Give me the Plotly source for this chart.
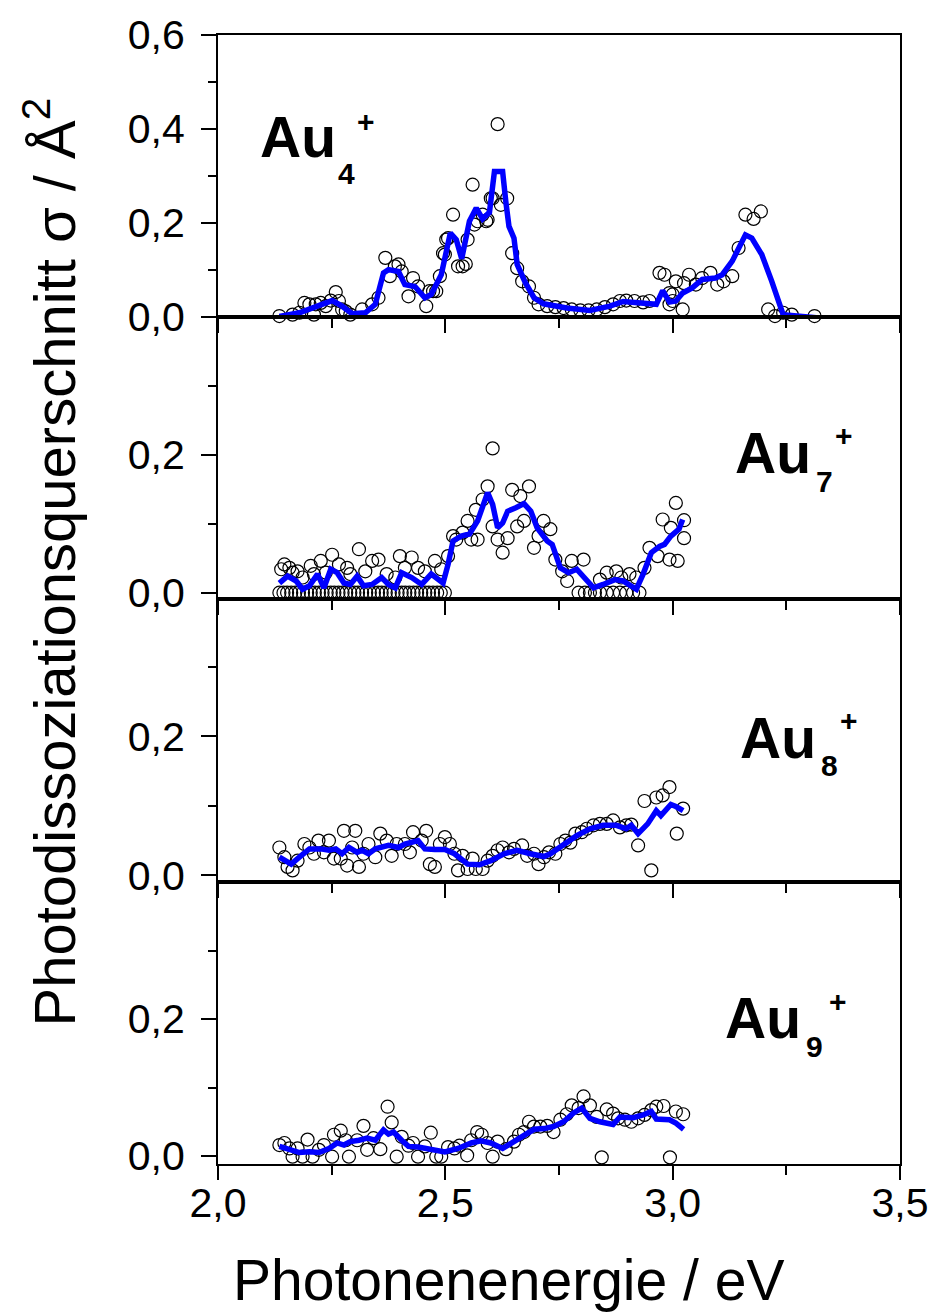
import plotly.graph_objects as go
from plotly.subplots import make_subplots

# ---------------- data ----------------
# Au4+ : measured points (circles) and smoothed curve (line)
AU4_X = [2.135, 2.146, 2.157, 2.164, 2.179, 2.190, 2.201, 2.211, 2.215, 2.226,
         2.237, 2.248, 2.259, 2.266, 2.273, 2.281, 2.291, 2.302, 2.317, 2.339,
         2.353, 2.368, 2.378, 2.389, 2.397, 2.404, 2.419, 2.429, 2.440, 2.458,
         2.465, 2.473, 2.480, 2.488, 2.495, 2.499, 2.502, 2.506, 2.517, 2.528,
         2.538, 2.549, 2.560, 2.564, 2.571, 2.582, 2.593, 2.600, 2.604, 2.615,
         2.622, 2.636, 2.647, 2.658, 2.669, 2.684, 2.695, 2.705, 2.724, 2.742,
         2.760, 2.778, 2.797, 2.815, 2.833, 2.851, 2.869, 2.884, 2.898, 2.916,
         2.935, 2.949, 2.971, 2.982, 2.993, 3.000, 3.007, 3.022, 3.025, 3.036,
         3.051, 3.065, 3.083, 3.098, 3.112, 3.131, 3.145, 3.160, 3.178, 3.194,
         3.210, 3.225, 3.243, 3.262, 3.280, 3.298, 3.312, 3.330,
         2.993, 3.000, 2.590, 2.545]
AU4_Y = [0.001, -0.004, -0.009, 0.004, 0.008, 0.029, 0.026, 0.004, 0.026, 0.029,
         0.022, 0.034, 0.052, 0.033, 0.015, 0.011, 0.004, -0.010, 0.015, 0.026,
         0.040, 0.125, 0.086, 0.107, 0.111, 0.096, 0.043, 0.082, 0.064, 0.022,
         0.054, 0.054, 0.054, 0.086, 0.135, 0.132, 0.164, 0.167, 0.217, 0.107,
         0.107, 0.164, 0.281, 0.196, 0.203, 0.217, 0.206, 0.252, 0.252, 0.410,
         0.238, 0.252, 0.135, 0.103, 0.075, 0.064, 0.040, 0.026, 0.022, 0.020,
         0.018, 0.015, 0.013, 0.013, 0.015, 0.020, 0.026, 0.033, 0.034, 0.033,
         0.030, 0.033, 0.093, 0.089, 0.050, 0.033, 0.075, 0.015, 0.071, 0.089,
         0.068, 0.082, 0.093, 0.068, 0.075, 0.086, 0.146, 0.217, 0.208, 0.224,
         0.015, 0.001, 0.008, 0.004, -0.006, -0.003, 0.001, -0.010,
         0.026, 0.047, 0.203, 0.112]
AU4_LX = [2.135, 2.179, 2.251, 2.273, 2.295, 2.324, 2.346, 2.364, 2.375, 2.397,
          2.411, 2.433, 2.455, 2.469, 2.491, 2.511, 2.524, 2.536, 2.553, 2.568,
          2.582, 2.597, 2.608, 2.626, 2.633, 2.640, 2.651, 2.658, 2.676, 2.695,
          2.716, 2.767, 2.818, 2.862, 2.891, 2.935, 2.964, 2.978, 2.993, 3.007,
          3.022, 3.043, 3.065, 3.094, 3.109, 3.131, 3.160, 3.174, 3.196, 3.218,
          3.243, 3.334]
AU4_LY = [0.000, 0.008, 0.034, 0.022, 0.006, 0.008, 0.026, 0.093, 0.100, 0.096,
          0.068, 0.064, 0.040, 0.047, 0.089, 0.178, 0.164, 0.123, 0.203, 0.231,
          0.208, 0.222, 0.309, 0.309, 0.245, 0.192, 0.167, 0.111, 0.072, 0.040,
          0.027, 0.018, 0.013, 0.022, 0.032, 0.029, 0.026, 0.055, 0.031, 0.033,
          0.050, 0.061, 0.079, 0.082, 0.089, 0.118, 0.174, 0.167, 0.132, 0.075,
          0.004, -0.004]

# Au7+
AU7_X = [2.139, 2.146, 2.157, 2.164, 2.175, 2.186, 2.204, 2.211, 2.226, 2.237,
         2.251, 2.266, 2.284, 2.291, 2.310, 2.324, 2.339, 2.353, 2.371, 2.390,
         2.400, 2.411, 2.426, 2.440, 2.455, 2.477, 2.491, 2.506, 2.517, 2.524,
         2.538, 2.549, 2.557, 2.571, 2.567, 2.582, 2.593, 2.604, 2.604, 2.615,
         2.626, 2.637, 2.647, 2.658, 2.665, 2.673, 2.684, 2.695, 2.705, 2.716,
         2.731, 2.742, 2.757, 2.768, 2.778, 2.804, 2.840, 2.855, 2.876, 2.887,
         2.905, 2.920, 2.938, 2.949, 2.967, 2.978, 2.993, 2.996, 3.007, 3.011,
         3.025, 3.025]
AU7_Y = [0.034, 0.041, 0.036, 0.029, 0.031, 0.022, 0.039, 0.027, 0.046, 0.029,
         0.055, 0.041, 0.036, 0.027, 0.063, 0.031, 0.046, 0.048, 0.027, 0.022,
         0.053, 0.036, 0.051, 0.036, 0.031, 0.046, 0.034, 0.053, 0.082, 0.077,
         0.087, 0.104, 0.077, 0.077, 0.120, 0.135, 0.154, 0.209, 0.096, 0.077,
         0.058, 0.079, 0.149, 0.096, 0.140, 0.104, 0.154, 0.065, 0.082, 0.104,
         0.092, 0.048, 0.031, 0.017, 0.046, 0.048, 0.019, 0.029, 0.031, 0.022,
         0.027, 0.022, 0.036, 0.065, 0.053, 0.106, 0.048, 0.094, 0.130, 0.046,
         0.079, 0.105]
AU7_ZX = [2.135, 2.144, 2.152, 2.161, 2.170, 2.178, 2.187, 2.196, 2.204, 2.213,
          2.222, 2.230, 2.239, 2.248, 2.256, 2.265, 2.274, 2.282, 2.291, 2.300,
          2.308, 2.317, 2.326, 2.334, 2.343, 2.352, 2.360, 2.369, 2.378, 2.386,
          2.395, 2.404, 2.412, 2.421, 2.430, 2.438, 2.447, 2.456, 2.464, 2.473,
          2.482, 2.490, 2.499, 2.793, 2.807, 2.818, 2.829, 2.840, 2.855, 2.869,
          2.884, 2.898, 2.913, 2.927]
AU7_ZY = [0.0, 0.0, 0.0, 0.0, 0.0, 0.0, 0.0, 0.0, 0.0, 0.0,
          0.0, 0.0, 0.0, 0.0, 0.0, 0.0, 0.0, 0.0, 0.0, 0.0,
          0.0, 0.0, 0.0, 0.0, 0.0, 0.0, 0.0, 0.0, 0.0, 0.0,
          0.0, 0.0, 0.0, 0.0, 0.0, 0.0, 0.0, 0.0, 0.0, 0.0,
          0.0, 0.0, 0.0, 0.0, 0.0, 0.0, 0.0, 0.0, 0.0, 0.0,
          0.0, 0.0, 0.0, 0.0]
AU7_LX = [2.135, 2.153, 2.172, 2.186, 2.201, 2.219, 2.233, 2.248, 2.262, 2.277,
          2.291, 2.306, 2.320, 2.339, 2.360, 2.375, 2.390, 2.404, 2.426, 2.448,
          2.469, 2.484, 2.495, 2.506, 2.517, 2.535, 2.553, 2.571, 2.593, 2.604,
          2.615, 2.626, 2.637, 2.655, 2.673, 2.688, 2.702, 2.724, 2.735, 2.753,
          2.771, 2.789, 2.807, 2.826, 2.847, 2.873, 2.891, 2.920, 2.935, 2.953,
          2.971, 2.982, 2.996, 3.014, 3.022]
AU7_LY = [0.014, 0.024, 0.017, 0.005, 0.010, 0.027, 0.007, 0.034, 0.029, 0.014,
          0.012, 0.024, 0.010, 0.012, 0.022, 0.012, 0.007, 0.029, 0.022, 0.012,
          0.027, 0.019, 0.014, 0.041, 0.075, 0.082, 0.085, 0.104, 0.145, 0.128,
          0.094, 0.101, 0.118, 0.123, 0.129, 0.118, 0.094, 0.075, 0.070, 0.036,
          0.029, 0.034, 0.022, 0.007, 0.012, 0.019, 0.017, 0.005, 0.027, 0.058,
          0.067, 0.070, 0.082, 0.092, 0.106]

# Au8+
AU8_X = [2.135, 2.146, 2.153, 2.164, 2.175, 2.190, 2.201, 2.211, 2.221, 2.233,
         2.244, 2.255, 2.270, 2.277, 2.284, 2.295, 2.302, 2.310, 2.320, 2.331,
         2.346, 2.357, 2.371, 2.382, 2.393, 2.411, 2.422, 2.429, 2.448, 2.458,
         2.466, 2.477, 2.488, 2.499, 2.510, 2.520, 2.528, 2.538, 2.549, 2.560,
         2.567, 2.582, 2.593, 2.604, 2.615, 2.626, 2.640, 2.651, 2.669, 2.680,
         2.695, 2.705, 2.717, 2.728, 2.742, 2.753, 2.764, 2.775, 2.786, 2.800,
         2.811, 2.826, 2.840, 2.855, 2.869, 2.884, 2.898, 2.909, 2.924, 2.938,
         2.953, 2.964, 2.978, 2.993, 3.009, 3.023]
AU8_Y = [0.040, 0.026, 0.012, 0.007, 0.021, 0.045, 0.040, 0.031, 0.050, 0.033,
         0.050, 0.024, 0.024, 0.064, 0.014, 0.040, 0.064, 0.012, 0.031, 0.045,
         0.026, 0.060, 0.050, 0.028, 0.045, 0.045, 0.033, 0.062, 0.050, 0.064,
         0.016, 0.012, 0.045, 0.055, 0.045, 0.031, 0.007, 0.028, 0.009, 0.024,
         0.009, 0.009, 0.021, 0.028, 0.036, 0.040, 0.033, 0.038, 0.043, 0.028,
         0.031, 0.016, 0.026, 0.033, 0.031, 0.045, 0.050, 0.047, 0.060, 0.062,
         0.067, 0.072, 0.074, 0.074, 0.079, 0.069, 0.072, 0.073, 0.043, 0.107,
         0.007, 0.112, 0.115, 0.127, 0.060, 0.096]
AU8_LX = [2.135, 2.161, 2.179, 2.201, 2.226, 2.244, 2.259, 2.273, 2.288, 2.306,
          2.317, 2.331, 2.346, 2.375, 2.397, 2.411, 2.440, 2.455, 2.477, 2.499,
          2.520, 2.549, 2.575, 2.600, 2.629, 2.658, 2.687, 2.717, 2.731, 2.760,
          2.789, 2.818, 2.847, 2.876, 2.898, 2.909, 2.924, 2.945, 2.964, 2.974,
          2.996, 3.007, 3.023]
AU8_LY = [0.026, 0.016, 0.026, 0.038, 0.038, 0.036, 0.038, 0.031, 0.040, 0.033,
          0.036, 0.031, 0.038, 0.043, 0.040, 0.045, 0.050, 0.038, 0.037, 0.037,
          0.031, 0.016, 0.015, 0.021, 0.031, 0.036, 0.031, 0.027, 0.031, 0.045,
          0.057, 0.067, 0.072, 0.072, 0.067, 0.072, 0.060, 0.074, 0.093, 0.086,
          0.102, 0.099, 0.093]

# Au9+
AU9_X = [2.135, 2.146, 2.157, 2.164, 2.175, 2.186, 2.197, 2.208, 2.222, 2.233,
         2.251, 2.255, 2.270, 2.281, 2.288, 2.306, 2.320, 2.328, 2.342, 2.357,
         2.373, 2.382, 2.393, 2.404, 2.419, 2.429, 2.440, 2.455, 2.468, 2.480,
         2.491, 2.506, 2.520, 2.531, 2.548, 2.557, 2.570, 2.580, 2.593, 2.604,
         2.615, 2.633, 2.651, 2.662, 2.673, 2.684, 2.695, 2.709, 2.724, 2.738,
         2.753, 2.767, 2.778, 2.793, 2.804, 2.818, 2.833, 2.844, 2.855, 2.869,
         2.880, 2.895, 2.909, 2.924, 2.938, 2.953, 2.964, 2.980, 2.994, 3.007,
         3.023]
AU9_Y = [0.016, 0.019, 0.011, -0.001, 0.011, -0.001, 0.024, -0.001, 0.009, 0.016,
         -0.001, 0.031, 0.037, 0.023, -0.001, 0.023, 0.044, 0.009, 0.026, 0.010,
         0.072, 0.049, -0.001, 0.028, 0.015, 0.019, -0.001, 0.014, 0.034, -0.001,
         -0.001, 0.013, 0.011, 0.015, 0.001, 0.023, 0.035, 0.031, 0.019, -0.001,
         0.021, 0.010, 0.021, 0.031, 0.035, 0.050, 0.043, 0.043, 0.044, 0.035,
         0.053, 0.061, 0.074, 0.070, 0.087, 0.074, 0.057, -0.002, 0.068, 0.062,
         0.055, 0.053, 0.050, 0.055, 0.060, 0.067, 0.072, 0.073, -0.002, 0.065,
         0.061]
AU9_LX = [2.135, 2.157, 2.179, 2.201, 2.222, 2.244, 2.262, 2.277, 2.291, 2.310,
          2.328, 2.346, 2.364, 2.375, 2.386, 2.404, 2.419, 2.440, 2.469, 2.499,
          2.528, 2.557, 2.578, 2.600, 2.626, 2.651, 2.673, 2.695, 2.717, 2.738,
          2.760, 2.782, 2.800, 2.818, 2.840, 2.869, 2.884, 2.913, 2.935, 2.953,
          2.964, 2.993, 3.007, 3.024]
AU9_LY = [0.014, 0.010, 0.005, 0.006, 0.005, 0.011, 0.019, 0.016, 0.021, 0.023,
          0.026, 0.023, 0.038, 0.032, 0.035, 0.023, 0.014, 0.013, 0.010, 0.006,
          0.011, 0.019, 0.022, 0.019, 0.011, 0.021, 0.031, 0.039, 0.040, 0.043,
          0.050, 0.063, 0.070, 0.055, 0.050, 0.046, 0.057, 0.056, 0.060, 0.065,
          0.054, 0.053, 0.048, 0.039]

X_TICKS = [2.0, 2.5, 3.0, 3.5]
X_TICK_TEXT = ["2,0", "2,5", "3,0", "3,5"]
X_MINOR = [2.25, 2.75, 3.25]
Y1_TICKS = [0.0, 0.2, 0.4, 0.6]
Y1_TICK_TEXT = ["0,0", "0,2", "0,4", "0,6"]
Y1_MINOR = [0.1, 0.3, 0.5]
Y_TICKS = [0.0, 0.2]
Y_TICK_TEXT = ["0,0", "0,2"]
Y_MINOR = [0.1, 0.3]

LABELS = [("Au", "4", "+"), ("Au", "7", "+"), ("Au", "8", "+"), ("Au", "9", "+")]
X_TITLE = "Photonenenergie / eV"
Y_TITLE = "Photodissoziationsquerschnitt σ / Å<sup>2</sup>"

# ---------------- layout geometry ----------------
W, H = 941, 1313
ML, MR, MT, MB = 218, 35, 33, 149
PW = W - ML - MR
PH = H - MT - MB
FONT = "Liberation Sans, Arial, sans-serif"

def px2x(px):
    return (px - ML) / PW

def py2y(py):
    return (H - MB - py) / PH

# panel pixel borders (top -> bottom)
borders = [33, 315, 598, 881, 1164]
domains = [[py2y(borders[i + 1]), py2y(borders[i])] for i in range(4)]
yranges = [[0.0, 0.6], [-0.0091, 0.4], [-0.009, 0.398], [-0.0117, 0.401]]

fig = make_subplots(rows=4, cols=1, shared_xaxes=True, vertical_spacing=0)

series = [
    (AU4_X, AU4_Y, AU4_LX, AU4_LY),
    (AU7_X, AU7_Y, AU7_LX, AU7_LY),
    (AU8_X, AU8_Y, AU8_LX, AU8_LY),
    (AU9_X, AU9_Y, AU9_LX, AU9_LY),
]

marker = dict(symbol="circle-open", size=13, color="black", line=dict(width=1.2, color="black"))
for i, (sx, sy, lx, ly) in enumerate(series):
    r = i + 1
    fig.add_trace(go.Scatter(x=sx, y=sy, mode="markers", marker=marker,
                             cliponaxis=False, showlegend=False), row=r, col=1)
    if i == 1:
        fig.add_trace(go.Scatter(x=AU7_ZX, y=AU7_ZY, mode="markers", marker=marker,
                                 cliponaxis=False, showlegend=False), row=r, col=1)
    fig.add_trace(go.Scatter(x=lx, y=ly, mode="lines",
                             line=dict(color="#0000FF", width=5.5),
                             cliponaxis=False, showlegend=False), row=r, col=1)

for i in range(4):
    r = i + 1
    fig.update_xaxes(row=r, col=1, range=[2.0, 3.5],
                     tickmode="array", tickvals=X_TICKS, ticktext=X_TICK_TEXT,
                     ticks="outside", ticklen=14, tickwidth=2, tickcolor="black",
                     minor=dict(tickmode="array", tickvals=X_MINOR, ticks="outside",
                                ticklen=9, tickwidth=2, tickcolor="black"),
                     showline=True, linewidth=2, linecolor="black", mirror=True,
                     showgrid=False, zeroline=False,
                     showticklabels=(i == 3),
                     ticklabelstandoff=-12,
                     tickfont=dict(family=FONT, size=41, color="black"))
    if i == 0:
        tv, tt, mv = Y1_TICKS, Y1_TICK_TEXT, Y1_MINOR
    else:
        tv, tt, mv = Y_TICKS, Y_TICK_TEXT, Y_MINOR
    fig.update_yaxes(row=r, col=1, range=yranges[i], domain=domains[i],
                     tickmode="array", tickvals=tv, ticktext=tt,
                     ticks="outside", ticklen=15, tickwidth=2, tickcolor="black",
                     minor=dict(tickmode="array", tickvals=mv, ticks="outside",
                                ticklen=8, tickwidth=2, tickcolor="black"),
                     showline=True, linewidth=2, linecolor="black", mirror=True,
                     showgrid=False, zeroline=False,
                     ticklabelstandoff=8,
                     tickfont=dict(family=FONT, size=41, color="black"))

# cluster labels: (Au centre, sub centre, plus centre) in pixels
label_pos = [
    ((299, 135), (348, 172), (367, 120)),
    ((778, 452), (830, 480), (850, 434)),
    ((783, 737), (835, 765), (855, 720)),
    ((768, 1018), (820, 1046), (843, 1001)),
]
anns = []
for (au, sub, plus), ((ax_, ay_), (sx_, sy_), (qx_, qy_)) in zip(LABELS, label_pos):
    anns.append(dict(text="<b>%s</b>" % au, x=px2x(ax_), y=py2y(ay_), xref="paper", yref="paper",
                     xanchor="center", yanchor="middle", showarrow=False,
                     font=dict(family=FONT, size=57, color="black")))
    anns.append(dict(text="<b>%s</b>" % sub, x=px2x(sx_), y=py2y(sy_), xref="paper", yref="paper",
                     xanchor="center", yanchor="middle", showarrow=False,
                     font=dict(family=FONT, size=30, color="black")))
    anns.append(dict(text="<b>%s</b>" % plus, x=px2x(qx_), y=py2y(qy_), xref="paper", yref="paper",
                     xanchor="center", yanchor="middle", showarrow=False,
                     font=dict(family=FONT, size=30, color="black")))

anns.append(dict(text=X_TITLE, x=px2x(511), y=py2y(1280), xref="paper", yref="paper",
                 xanchor="center", yanchor="middle", showarrow=False,
                 font=dict(family=FONT, size=57, color="black")))
anns.append(dict(text=Y_TITLE, x=px2x(48), y=py2y(561), xref="paper", yref="paper",
                 xanchor="center", yanchor="middle", showarrow=False, textangle=-90,
                 font=dict(family=FONT, size=58, color="black")))

fig.update_layout(width=W, height=H, margin=dict(l=ML, r=MR, t=MT, b=MB),
                  paper_bgcolor="white", plot_bgcolor="white",
                  separators=",.", annotations=anns, showlegend=False,
                  font=dict(family=FONT, color="black"))

fig.write_html("out.html")
